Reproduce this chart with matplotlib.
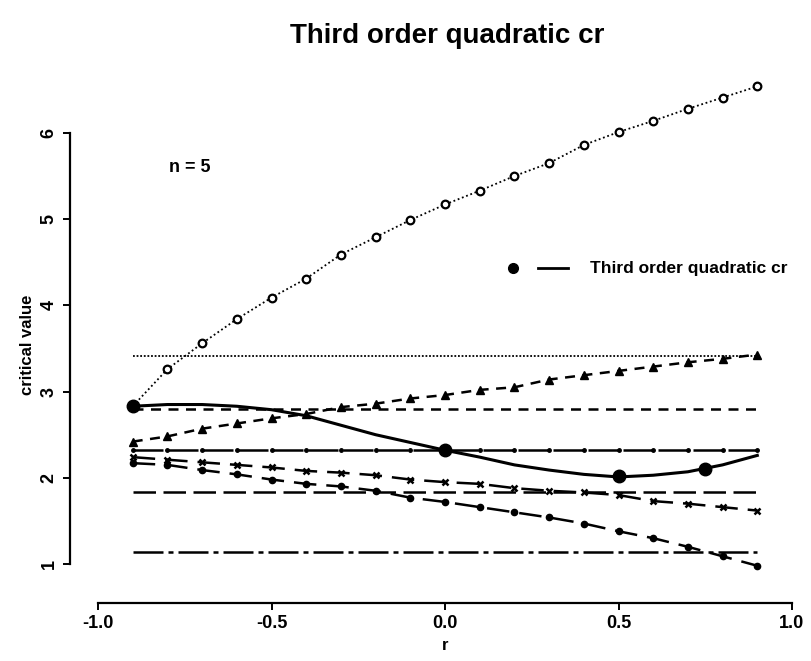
import matplotlib.pyplot as plt
import numpy as np

plt.rcParams['font.family'] = ['Liberation Sans', 'DejaVu Sans']

# r grid for the simulated curves
r = [-0.9, -0.8, -0.7, -0.6, -0.5, -0.4, -0.3, -0.2, -0.1, 0.0,
     0.1, 0.2, 0.3, 0.4, 0.5, 0.6, 0.7, 0.8, 0.9]

# open circles, dotted
y_circ = [2.83, 3.26, 3.56, 3.84, 4.09, 4.31, 4.59, 4.79, 4.99, 5.17,
          5.33, 5.50, 5.65, 5.86, 6.01, 6.14, 6.28, 6.41, 6.54]
# triangles, short dashes
y_tri = [2.42, 2.48, 2.57, 2.63, 2.69, 2.74, 2.82, 2.86, 2.92, 2.96,
         3.02, 3.05, 3.14, 3.19, 3.24, 3.29, 3.34, 3.38, 3.43]
# crosses, long dashes
y_x = [2.24, 2.21, 2.18, 2.15, 2.12, 2.08, 2.06, 2.03, 1.98, 1.95,
       1.93, 1.88, 1.85, 1.83, 1.80, 1.73, 1.70, 1.66, 1.62]
# filled dots, long dashes
y_dot = [2.17, 2.15, 2.09, 2.04, 1.98, 1.93, 1.90, 1.85, 1.77, 1.72,
         1.66, 1.60, 1.54, 1.47, 1.38, 1.30, 1.20, 1.09, 0.98]
# solid cubic curve
y_cubic = [2.83, 2.85, 2.85, 2.83, 2.79, 2.72, 2.61, 2.50, 2.41, 2.32,
           2.24, 2.15, 2.09, 2.04, 2.01, 2.03, 2.07, 2.15, 2.26]
# big dots on the cubic
r_big = [-0.9, 0.0, 0.5, 0.75]
y_big = [2.83, 2.32, 2.02, 2.10]

# constant reference levels
h_dotted = 3.41
h_dashed = 2.80
h_mid = 2.32
h_long = 1.83
h_dashdot = 1.14

fig = plt.figure(figsize=(8.11, 6.61), dpi=100)
W, H = 811, 661
ax = fig.add_axes([70 / W, (H - 603) / H, (W - 70) / W, (603 - 60) / H])

k = 'black'
ax.plot(r, y_circ, color=k, lw=1.3, ls=(0, (1, 1.5)), marker='o', ms=5.5,
        mfc='white', mec=k, mew=1.6)
ax.plot([r[0], r[-1]], [h_dotted] * 2, color=k, lw=1.3, ls=(0, (1, 1)))
ax.plot(r, y_tri, color=k, lw=1.8, ls=(0, (4, 3)), marker='^', ms=5.5)
ax.plot([r[0], r[-1]], [h_dashed] * 2, color=k, lw=1.8, ls=(0, (4, 3)))
ax.plot(r, [h_mid] * len(r), color=k, lw=1.8, ls=(0, (12, 2)), marker='o', ms=2.5)
ax.plot(r, y_x, color=k, lw=1.8, ls=(0, (9, 4)), marker='x', ms=4.5, mew=1.8)
ax.plot(r, y_dot, color=k, lw=1.8, ls=(0, (9, 4)), marker='o', ms=4.5)
ax.plot([r[0], r[-1]], [h_long] * 2, color=k, lw=1.8, ls=(0, (9, 3)))
ax.plot([r[0], r[-1]], [h_dashdot] * 2, color=k, lw=1.8, ls=(0, (12, 2, 2, 2)))
ax.plot(r, y_cubic, color=k, lw=2.2)
ax.plot(r_big, y_big, 'o', color=k, ms=9)

ax.set_xlim(-1 - 28 / 347, 1 + 19 / 347)
ax.set_ylim(1 - 39 / 86.3, 6 + 73 / 86.3)

for s in ['top', 'right']:
    ax.spines[s].set_visible(False)
ax.spines['left'].set_bounds(1, 6)
ax.spines['bottom'].set_bounds(-1, 1)
ax.spines['left'].set_linewidth(1.6)
ax.spines['bottom'].set_linewidth(1.6)

ax.set_xticks([-1.0, -0.5, 0.0, 0.5, 1.0])
ax.set_xticklabels(['-1.0', '-0.5', '0.0', '0.5', '1.0'])
ax.set_yticks([1, 2, 3, 4, 5, 6])
ax.tick_params(length=5, width=1.4, labelsize=13, pad=4)
for t in ax.get_yticklabels():
    t.set_rotation(90)
    t.set_va('center')
for t in ax.get_xticklabels() + ax.get_yticklabels():
    t.set_fontweight('bold')

ax.set_xlabel('r', fontsize=12, fontweight='bold')
ax.xaxis.set_label_coords((445 - 70) / (W - 70), -(645 - 603) / (603 - 60))
ax.xaxis.label.set_va('center')
ax.set_ylabel('critical value', fontsize=12, fontweight='bold')
ax.yaxis.set_label_coords(-(70 - 35) / (W - 70), (603 - 345) / (603 - 60))

fig.text(447 / W, 1 - 36 / H, 'Third order quadratic cr', ha='center',
         va='center', fontsize=20, fontweight='bold')

ax.text(-0.735, 5.60, 'n = 5', ha='center', va='center', fontsize=13,
        fontweight='bold')

# legend drawn R style
ax.plot([0.197], [4.43], 'o', color=k, ms=7)
ax.plot([0.268, 0.355], [4.43, 4.43], color=k, lw=2)
ax.text(0.418, 4.43, 'Third order quadratic cr', va='center', fontsize=12.5,
        fontweight='bold')

fig.savefig('out.png', dpi=100)
